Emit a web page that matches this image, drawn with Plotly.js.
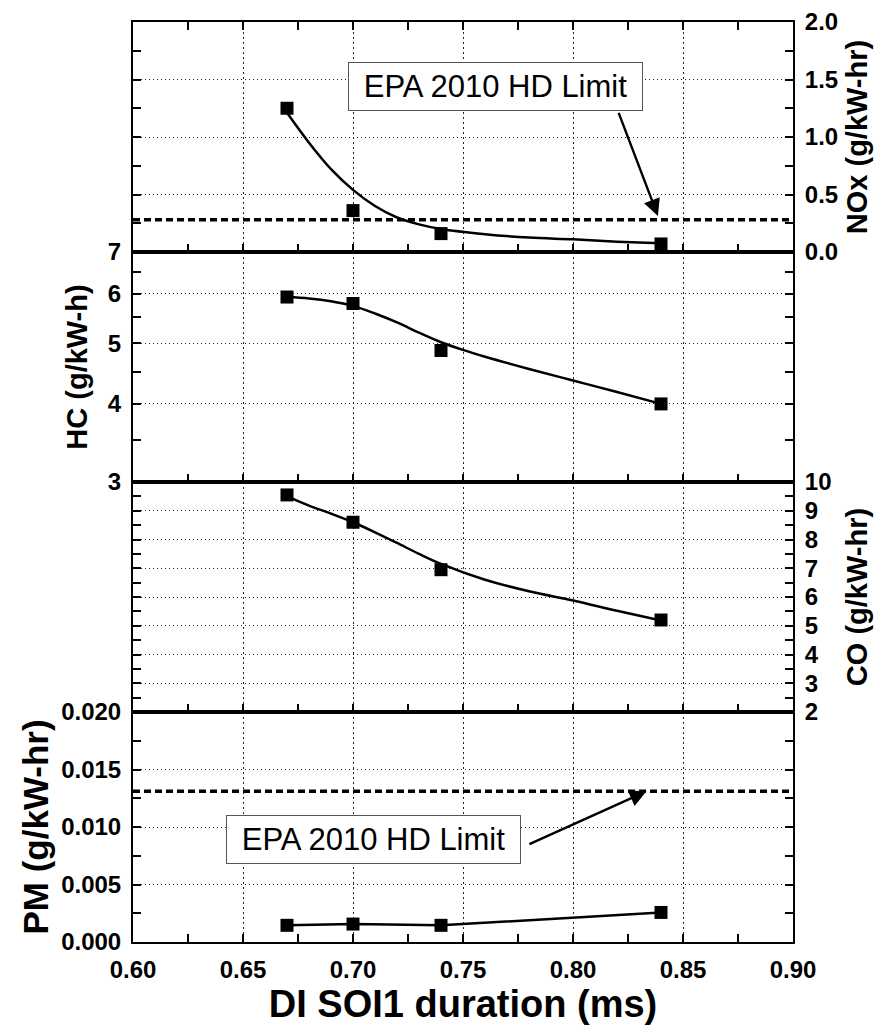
<!DOCTYPE html>
<html>
<head>
<meta charset="utf-8">
<script src="https://cdn.plot.ly/plotly-3.0.1.min.js"></script>
<style>
  html, body { margin: 0; padding: 0; background: #fff; }
  #chart { width: 889px; height: 1026px; }
</style>
</head>
<body>
<div id="chart"></div>
<script>
// DI SOI1 duration sweep: measured emissions
const soiDuration = [0.67, 0.70, 0.74, 0.84];
const noxMeasured = [1.25, 0.36, 0.16, 0.07];
const hcMeasured  = [5.93, 5.79, 4.87, 4.00];
const coMeasured  = [9.55, 8.60, 6.95, 5.20];
const pmMeasured  = [0.00145, 0.00156, 0.00145, 0.00257];

// Trend curves through the measurements
const noxFitX = [0.67, 0.68, 0.69, 0.70, 0.71, 0.72, 0.73, 0.74, 0.76, 0.78, 0.80, 0.82, 0.84];
const noxFitY = [1.21, 0.95, 0.72, 0.54, 0.40, 0.30, 0.24, 0.20, 0.155, 0.125, 0.11, 0.09, 0.075];
const hcFitX  = [0.67, 0.68, 0.69, 0.70, 0.71, 0.72, 0.73, 0.74, 0.75, 0.76, 0.78, 0.80, 0.82, 0.84];
const hcFitY  = [5.93, 5.90, 5.84, 5.74, 5.58, 5.40, 5.20, 5.02, 4.88, 4.76, 4.55, 4.36, 4.18, 4.00];
const coFitX  = [0.67, 0.68, 0.69, 0.70, 0.71, 0.72, 0.73, 0.74, 0.76, 0.78, 0.80, 0.82, 0.84];
const coFitY  = [9.50, 9.18, 8.90, 8.60, 8.25, 7.88, 7.50, 7.15, 6.60, 6.20, 5.88, 5.52, 5.18];

// Regulatory limits (g/kW-hr)
const noxLimit = 0.28;
const pmLimit = 0.0131;
const limitLabel = 'EPA 2010 HD Limit';

// Axis ticks and labels
const xTicks = [0.60, 0.65, 0.70, 0.75, 0.80, 0.85, 0.90];
const xTickLabels = ['0.60', '0.65', '0.70', '0.75', '0.80', '0.85', '0.90'];
const xMinorTicks = [0.625, 0.675, 0.725, 0.775, 0.825, 0.875];
const noxTicks = [0, 0.5, 1.0, 1.5, 2.0];
const noxTickLabels = ['0.0', '0.5', '1.0', '1.5', '2.0'];
const noxMinorTicks = [0.25, 0.75, 1.25, 1.75];
const hcTicks = [3, 4, 5, 6, 7];
const hcTickLabels = ['3', '4', '5', '6', '7'];
const hcMinorTicks = [3.5, 4.5, 5.5, 6.5];
const coTicks = [2, 3, 4, 5, 6, 7, 8, 9, 10];
const coTickLabels = ['2', '3', '4', '5', '6', '7', '8', '9', '10'];
const coMinorTicks = [2.5, 3.5, 4.5, 5.5, 6.5, 7.5, 8.5, 9.5];
const pmTicks = [0, 0.005, 0.010, 0.015, 0.020];
const pmTickLabels = ['0.000', '0.005', '0.010', '0.015', '0.020'];
const pmMinorTicks = [0.0025, 0.0075, 0.0125, 0.0175];

const FONT = 'Liberation Sans, Arial, Helvetica, sans-serif';
const tickFont = { family: FONT, size: 24, weight: 'bold', color: '#000' };
const titleFont = (size) => ({ family: FONT, size: size, weight: 'bold', color: '#000' });

function xAxis(anchor, showLabels, mirror) {
  return {
    anchor: anchor,
    domain: [0, 1],
    range: [0.6, 0.9],
    tickmode: 'array', tickvals: xTicks, ticktext: xTickLabels,
    showticklabels: showLabels,
    tickfont: tickFont,
    ticks: 'inside', ticklen: 8, tickwidth: 2, tickcolor: '#000',
    showline: true, linewidth: 2, linecolor: '#000', mirror: mirror,
    showgrid: true, gridcolor: '#222', gridwidth: 1, griddash: '2px,3px',
    zeroline: false,
    minor: { tickmode: 'array', tickvals: xMinorTicks, ticks: 'inside', ticklen: 8, tickwidth: 2, tickcolor: '#000', showgrid: false },
    ticklabelstandoff: 5
  };
}

function yAxis(opts) {
  return Object.assign({
    tickmode: 'array',
    tickfont: tickFont,
    ticks: 'inside', ticklen: 8, tickwidth: 2, tickcolor: '#000',
    showline: true, linewidth: 2, linecolor: '#000', mirror: 'ticks',
    showgrid: true, gridcolor: '#222', gridwidth: 1, griddash: '1px,3px',
    zeroline: false,
    ticklabelstandoff: 5
  }, opts);
}

const markerStyle = { symbol: 'square', size: 13, color: '#000' };
const curveStyle = { color: '#000', width: 2.5, shape: 'spline', smoothing: 1 };

const traces = [
  // NOx
  { x: noxFitX, y: noxFitY, xaxis: 'x4', yaxis: 'y4', mode: 'lines', line: curveStyle, hoverinfo: 'skip' },
  { x: soiDuration, y: noxMeasured, xaxis: 'x4', yaxis: 'y4', mode: 'markers', marker: markerStyle, name: 'NOx' },
  // HC
  { x: hcFitX, y: hcFitY, xaxis: 'x3', yaxis: 'y3', mode: 'lines', line: curveStyle, hoverinfo: 'skip' },
  { x: soiDuration, y: hcMeasured, xaxis: 'x3', yaxis: 'y3', mode: 'markers', marker: markerStyle, name: 'HC' },
  // CO
  { x: coFitX, y: coFitY, xaxis: 'x2', yaxis: 'y2', mode: 'lines', line: curveStyle, hoverinfo: 'skip' },
  { x: soiDuration, y: coMeasured, xaxis: 'x2', yaxis: 'y2', mode: 'markers', marker: markerStyle, name: 'CO' },
  // PM
  { x: soiDuration, y: pmMeasured, xaxis: 'x', yaxis: 'y', mode: 'lines+markers',
    line: { color: '#000', width: 2.5 }, marker: markerStyle, name: 'PM' }
];

const eps = 1e-9;
const layout = {
  width: 889, height: 1026,
  margin: { l: 133, r: 96, t: 22, b: 84 },
  paper_bgcolor: '#fff', plot_bgcolor: '#fff',
  showlegend: false,
  font: { family: FONT, color: '#000' },

  xaxis: Object.assign(xAxis('y', true, true), {
    title: { text: 'DI SOI1 duration (ms)', font: titleFont(38), standoff: 6 }
  }),
  xaxis2: Object.assign(xAxis('y2', false, true), { matches: 'x' }),
  xaxis3: Object.assign(xAxis('y3', false, true), { matches: 'x' }),
  xaxis4: Object.assign(xAxis('y4', false, 'ticks'), { matches: 'x' }),

  yaxis: yAxis({
    anchor: 'x', domain: [0, 0.25], side: 'left',
    range: [0 - eps, 0.02 + eps],
    tickvals: pmTicks, ticktext: pmTickLabels,
    minor: { tickmode: 'array', tickvals: pmMinorTicks, ticks: 'inside', ticklen: 8, tickwidth: 2, tickcolor: '#000', showgrid: false },
    title: { text: 'PM (g/kW-hr)', font: titleFont(35), standoff: 2 }
  }),
  yaxis2: yAxis({
    anchor: 'x2', domain: [0.25, 0.5], side: 'right',
    range: [2 - eps, 10 + eps],
    tickvals: coTicks, ticktext: coTickLabels,
    minor: { tickmode: 'array', tickvals: coMinorTicks, ticks: 'inside', ticklen: 8, tickwidth: 2, tickcolor: '#000', showgrid: false },
    title: { text: 'CO (g/kW-hr)', font: titleFont(29), standoff: 16 }
  }),
  yaxis3: yAxis({
    anchor: 'x3', domain: [0.5, 0.75], side: 'left', type: 'log',
    range: [Math.log10(3) - eps, Math.log10(7) + eps],
    tickvals: hcTicks, ticktext: hcTickLabels,
    minor: { tickmode: 'array', tickvals: hcMinorTicks, ticks: 'inside', ticklen: 8, tickwidth: 2, tickcolor: '#000', showgrid: false },
    title: { text: 'HC (g/kW-h)', font: titleFont(29), standoff: 12 }
  }),
  yaxis4: yAxis({
    anchor: 'x4', domain: [0.75, 1], side: 'right',
    range: [0 - eps, 2 + eps],
    tickvals: noxTicks, ticktext: noxTickLabels,
    minor: { tickmode: 'array', tickvals: noxMinorTicks, ticks: 'inside', ticklen: 8, tickwidth: 2, tickcolor: '#000', showgrid: false },
    title: { text: 'NOx (g/kW-hr)', font: titleFont(29), standoff: 10 }
  }),

  shapes: [
    { type: 'line', xref: 'x4 domain', yref: 'y4', x0: 0, x1: 1, y0: noxLimit, y1: noxLimit,
      line: { color: '#000', width: 3.5, dash: '7px,4px' } },
    { type: 'line', xref: 'x domain', yref: 'y', x0: 0, x1: 1, y0: pmLimit, y1: pmLimit,
      line: { color: '#000', width: 3.5, dash: '7px,4px' } }
  ],

  annotations: [
    // NOx limit label and pointer
    { xref: 'x4', yref: 'y4', x: 0.7648, y: 1.437, text: limitLabel, showarrow: false,
      font: { family: FONT, size: 31, color: '#000' },
      bgcolor: '#fff', bordercolor: '#555', borderwidth: 1, borderpad: 0, width: 293, height: 47 },
    { xref: 'x4', yref: 'y4', axref: 'x4', ayref: 'y4', x: 0.8386, y: 0.313, ax: 0.8205, ay: 1.223,
      text: '', showarrow: true, arrowhead: 2, arrowsize: 1.4, arrowwidth: 2.4, arrowcolor: '#000' },
    // PM limit label and pointer
    { xref: 'x', yref: 'y', x: 0.7095, y: 0.0089, text: limitLabel, showarrow: false,
      font: { family: FONT, size: 31, color: '#000' },
      bgcolor: '#fff', bordercolor: '#555', borderwidth: 1, borderpad: 0, width: 293, height: 47 },
    { xref: 'x', yref: 'y', axref: 'x', ayref: 'y', x: 0.8334, y: pmLimit, ax: 0.7795, ay: 0.00846,
      text: '', showarrow: true, arrowhead: 2, arrowsize: 1.4, arrowwidth: 2.4, arrowcolor: '#000' }
  ]
};

Plotly.newPlot('chart', traces, layout, { staticPlot: true, displayModeBar: false });
</script>
</body>
</html>
